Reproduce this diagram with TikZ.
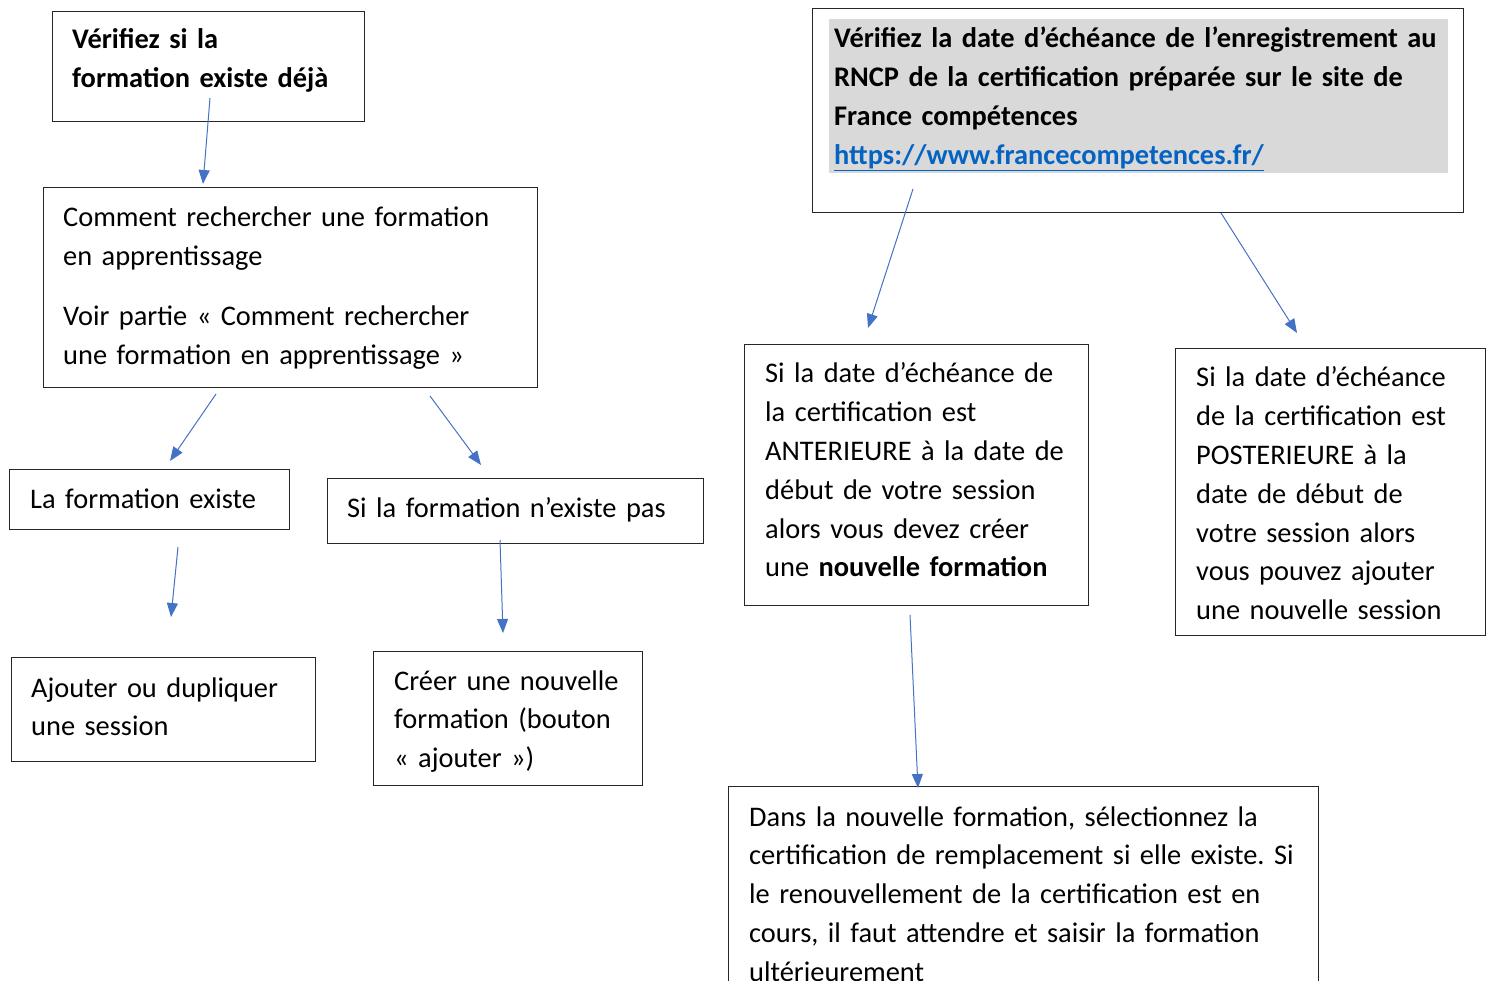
\documentclass[tikz,border=0pt]{standalone}
\usepackage{fontspec}
\setmainfont{Carlito}
\usetikzlibrary{arrows.meta}
\definecolor{arr}{HTML}{4472C4}
\definecolor{greyfill}{HTML}{D9D9D9}
\definecolor{link}{HTML}{0563C1}
\frenchspacing
\tikzset{
  box/.style={draw=black!85, line width=1.2pt, rectangle, inner sep=0pt, anchor=north west},
  txt/.style={anchor=base west, inner sep=0pt, align=left, text width=#1,
    font=\fontsize{28.4}{38.8}\selectfont},
  txt/.default=600pt,
  conn/.style={draw=arr, line width=1pt, -{Triangle[length=14pt,width=11pt]}},
}
\begin{document}
\begin{tikzpicture}[x=1pt,y=-1pt]
\useasboundingbox (0,0) rectangle (1491,981);
\clip (0,0) rectangle (1491,981);
% boxes
\node[box, minimum width=312pt, minimum height=110pt] (bA) at (52,11) {};
\node[box, minimum width=494pt, minimum height=200pt] (bB) at (43,187) {};
\node[box, minimum width=280pt, minimum height=60pt] (bC) at (9,469) {};
\node[box, minimum width=376pt, minimum height=65pt] (bD) at (327,478) {};
\node[box, minimum width=304pt, minimum height=104pt] (bE) at (11,657) {};
\node[box, minimum width=269pt, minimum height=134pt] (bF) at (373,651) {};
\node[box, minimum width=651pt, minimum height=204pt] (bG) at (812,8) {};
\node[draw=none, fill=greyfill, inner sep=0pt, anchor=north west, minimum width=619pt, minimum height=154pt] (gG) at (829,19) {};
\node[box, minimum width=344pt, minimum height=261pt] (bH) at (744,344) {};
\node[box, minimum width=310pt, minimum height=287pt] (bI) at (1175,348) {};
\node[box, minimum width=590pt, minimum height=240pt] (bJ) at (728,786) {};
% texts
\node[txt] (tA) at (72,49) {\bfseries Vérifiez si la\\formation existe déjà};
\node[txt] (tB) at (63,227) {Comment rechercher une formation\\en apprentissage\\[21pt]Voir partie « Comment rechercher\\une formation en apprentissage »};
\node[txt] (tC) at (30,508) {La formation existe};
\node[txt] (tD) at (347,517) {Si la formation n’existe pas};
\node[txt] (tE) at (31,697) {Ajouter ou dupliquer\\une session};
\node[txt] (tF) at (394,690) {Créer une nouvelle\\formation (bouton\\« ajouter »)};
\node[txt=640pt] (tG) at (834,48) {\bfseries Vérifiez la date d’échéance de l’enregistrement au\\RNCP de la certification préparée sur le site de\\France compétences\\{\color{link}\underline{https://www.francecompetences.fr/}}};
\node[txt] (tH) at (765,383) {Si la date d’échéance de\\la certification est\\ANTERIEURE à la date de\\début de votre session\\alors vous devez créer\\une \textbf{nouvelle formation}};
\node[txt] (tI) at (1196,387) {Si la date d’échéance\\de la certification est\\POSTERIEURE à la\\date de début de\\votre session alors\\vous pouvez ajouter\\une nouvelle session};
\node[txt] (tJ) at (749,826) {Dans la nouvelle formation, sélectionnez la\\certification de remplacement si elle existe. Si\\le renouvellement de la certification est en\\cours, il faut attendre et saisir la formation\\ultérieurement};
% connector end points
\coordinate (a1s) at (210,98);   \coordinate (a1e) at (203,184);
\coordinate (a2s) at (216,394);  \coordinate (a2e) at (170,461);
\coordinate (a3s) at (430,396);  \coordinate (a3e) at (481,465);
\coordinate (a4s) at (178,547);  \coordinate (a4e) at (171,617);
\coordinate (a5s) at (500,540);  \coordinate (a5e) at (503,633);
\coordinate (a6s) at (913,189);  \coordinate (a6e) at (868,328);
\coordinate (a7s) at (1221,213); \coordinate (a7e) at (1297,333);
\coordinate (a8s) at (910,615);  \coordinate (a8e) at (918,788);
\draw[conn] (a1s) -- (a1e);
\draw[conn] (a2s) -- (a2e);
\draw[conn] (a3s) -- (a3e);
\draw[conn] (a4s) -- (a4e);
\draw[conn] (a5s) -- (a5e);
\draw[conn] (a6s) -- (a6e);
\draw[conn] (a7s) -- (a7e);
\draw[conn] (a8s) -- (a8e);
\end{tikzpicture}
\end{document}
